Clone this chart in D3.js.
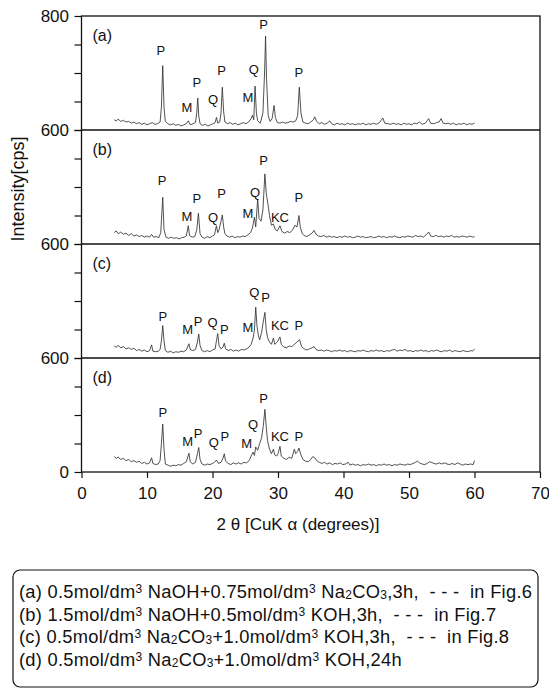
<!DOCTYPE html>
<html><head><meta charset="utf-8">
<script src="https://cdn.jsdelivr.net/npm/d3@7/dist/d3.min.js"></script>
<style>body{margin:0;background:#fff}svg{display:block}text{font-family:"Liberation Sans",Arial,Helvetica,sans-serif;fill:#111}</style>
</head><body><svg id="c" width="549" height="690"></svg>
<script>
// ---------- DATA ----------
const panelNames = ["(a)", "(b)", "(c)", "(d)"];
const xTicks = [0, 10, 20, 30, 40, 50, 60, 70];
const yTicks = [600, 650, 700, 750, 800];
const yBoundaryLabels = ["800", "600", "600", "600", "0"];
const xTitle = "2 θ [CuK α (degrees)]";
const yTitle = "Intensity[cps]";

// [2θ (deg), intensity (cps)]
const patternA = [[5.0,618],[5.3,616],[5.6,619],[6.0,615],[6.4,617],[6.8,614],[7.2,615],[7.6,612],[8.0,614],[8.4,611],[8.8,613],[9.2,610],[9.6,612],[10.0,609],[10.4,611],[10.8,613],[11.2,610],[11.6,611],[12.0,614],[12.2,640],[12.4,713],[12.6,640],[12.8,615],[13.2,611],[13.6,609],[14.0,611],[14.4,608],[14.8,610],[15.2,607],[15.6,609],[16.0,611],[16.3,616],[16.6,609],[17.0,611],[17.4,613],[17.6,630],[17.75,656],[17.9,625],[18.1,611],[18.5,608],[18.9,610],[19.3,607],[19.7,609],[20.1,611],[20.4,613],[20.6,622],[20.8,612],[21.1,614],[21.3,630],[21.5,675],[21.7,632],[21.9,614],[22.3,611],[22.7,613],[23.1,610],[23.5,612],[23.9,609],[24.3,611],[24.7,613],[25.1,611],[25.5,614],[25.9,620],[26.1,626],[26.3,618],[26.5,677],[26.7,630],[26.9,616],[27.3,612],[27.7,630],[27.95,700],[28.1,765],[28.25,690],[28.5,625],[28.8,615],[29.1,620],[29.4,643],[29.6,622],[29.9,613],[30.3,612],[30.7,614],[31.1,612],[31.5,613],[31.9,615],[32.3,614],[32.7,616],[33.0,625],[33.25,675],[33.5,630],[33.8,614],[34.2,612],[34.6,611],[35.0,614],[35.4,618],[35.6,623],[35.9,615],[36.3,611],[36.7,613],[37.1,610],[37.5,612],[37.9,616],[38.2,611],[38.6,609],[39.0,612],[39.4,610],[39.8,611],[40.2,609],[40.6,612],[41.0,610],[41.4,611],[41.8,609],[42.2,611],[42.6,610],[43.0,612],[43.4,609],[43.8,611],[44.2,610],[44.6,612],[45.0,610],[45.5,613],[46.0,621],[46.3,612],[46.8,611],[47.2,610],[47.6,612],[48.0,610],[48.4,611],[48.8,609],[49.2,612],[49.6,610],[50.0,611],[50.4,609],[50.8,612],[51.2,611],[51.6,614],[52.0,610],[52.5,612],[53.0,620],[53.3,612],[53.8,611],[54.2,613],[54.6,614],[54.9,620],[55.2,612],[55.6,611],[56.0,612],[56.4,610],[56.8,612],[57.2,609],[57.6,611],[58.0,610],[58.4,612],[58.8,609],[59.2,611],[59.6,610],[60.0,612]];

const patternB = [[5.0,620],[5.3,623],[5.6,618],[6.0,621],[6.4,617],[6.8,619],[7.2,615],[7.6,618],[8.0,614],[8.4,616],[8.8,613],[9.2,615],[9.6,612],[10.0,614],[10.4,612],[10.7,617],[11.0,612],[11.4,613],[11.8,611],[12.1,620],[12.4,682],[12.6,625],[12.9,612],[13.3,610],[13.7,612],[14.1,610],[14.5,611],[14.9,609],[15.3,611],[15.7,612],[16.0,614],[16.3,632],[16.5,615],[16.9,612],[17.3,613],[17.6,625],[17.85,654],[18.1,618],[18.4,612],[18.8,610],[19.2,613],[19.6,611],[20.0,614],[20.3,616],[20.6,632],[20.8,620],[21.0,625],[21.3,640],[21.5,651],[21.7,630],[21.9,618],[22.2,614],[22.6,612],[23.0,614],[23.4,611],[23.8,613],[24.2,612],[24.6,614],[25.0,613],[25.4,616],[25.8,620],[26.1,628],[26.4,647],[26.6,630],[26.9,679],[27.1,645],[27.4,640],[27.7,660],[28.0,723],[28.2,690],[28.5,667],[28.7,650],[29.0,633],[29.3,635],[29.6,625],[29.9,623],[30.3,632],[30.6,622],[31.0,619],[31.4,622],[31.8,620],[32.2,624],[32.6,633],[32.9,630],[33.2,650],[33.4,630],[33.7,618],[34.0,615],[34.4,613],[34.8,616],[35.2,619],[35.5,624],[35.8,617],[36.2,614],[36.6,613],[37.0,615],[37.4,612],[37.8,614],[38.2,612],[38.6,613],[39.0,611],[39.4,613],[39.8,612],[40.2,614],[40.6,612],[41.0,613],[41.4,611],[41.8,612],[42.2,614],[42.6,612],[43.0,613],[43.4,611],[43.8,612],[44.2,613],[44.6,611],[45.0,612],[45.4,614],[45.8,612],[46.2,613],[46.6,611],[47.0,613],[47.4,612],[47.8,614],[48.2,612],[48.6,611],[49.0,613],[49.4,612],[49.8,614],[50.2,613],[50.6,612],[51.0,615],[51.4,613],[51.8,614],[52.2,612],[52.6,616],[53.0,621],[53.3,614],[53.7,613],[54.1,615],[54.5,613],[54.9,614],[55.3,612],[55.7,614],[56.1,613],[56.5,615],[56.9,612],[57.3,613],[57.7,612],[58.1,614],[58.5,613],[58.9,612],[59.3,614],[59.7,612],[60.0,613]];

const patternC = [[5.0,621],[5.3,619],[5.6,622],[6.0,618],[6.4,620],[6.8,616],[7.2,618],[7.6,615],[8.0,617],[8.4,613],[8.8,615],[9.2,612],[9.6,614],[10.0,611],[10.4,613],[10.7,623],[10.9,612],[11.3,611],[11.7,612],[12.0,615],[12.2,630],[12.4,657],[12.6,630],[12.8,613],[13.2,610],[13.6,612],[14.0,609],[14.4,611],[14.8,610],[15.2,612],[15.6,611],[16.0,614],[16.4,625],[16.6,615],[17.0,613],[17.4,615],[17.7,628],[17.9,642],[18.1,622],[18.4,613],[18.8,611],[19.2,613],[19.6,611],[20.0,614],[20.4,616],[20.6,630],[20.8,643],[21.0,622],[21.3,616],[21.6,619],[21.8,626],[22.0,616],[22.4,613],[22.8,615],[23.2,612],[23.6,614],[24.0,612],[24.4,615],[24.8,614],[25.2,616],[25.6,619],[25.9,624],[26.2,635],[26.4,649],[26.6,689],[26.8,655],[27.0,640],[27.2,632],[27.5,645],[27.7,660],[28.0,680],[28.2,650],[28.4,636],[28.7,628],[29.0,624],[29.3,635],[29.5,624],[29.8,627],[30.0,630],[30.3,637],[30.5,624],[30.9,619],[31.3,618],[31.7,621],[32.1,620],[32.5,624],[32.9,628],[33.3,632],[33.6,620],[34.0,616],[34.4,614],[34.8,616],[35.2,618],[35.5,620],[35.8,615],[36.2,613],[36.6,614],[37.0,612],[37.4,614],[37.8,613],[38.2,611],[38.6,613],[39.0,612],[39.4,614],[39.8,612],[40.2,613],[40.6,611],[41.0,613],[41.4,612],[41.8,611],[42.2,613],[42.6,612],[43.0,614],[43.4,612],[43.8,611],[44.2,613],[44.6,612],[45.0,614],[45.4,612],[45.8,613],[46.2,611],[46.6,613],[47.0,612],[47.4,614],[47.8,615],[48.2,612],[48.6,614],[49.0,613],[49.4,615],[49.8,612],[50.2,613],[50.6,611],[51.0,613],[51.4,612],[51.8,614],[52.2,612],[52.6,613],[53.0,611],[53.4,613],[53.8,612],[54.2,614],[54.6,612],[55.0,611],[55.4,613],[55.8,612],[56.2,614],[56.6,611],[57.0,613],[57.4,612],[57.8,611],[58.2,613],[58.6,612],[59.0,611],[59.4,613],[59.7,612],[60.0,616]];

const patternD = [[5.0,627],[5.3,624],[5.6,626],[6.0,622],[6.4,624],[6.8,620],[7.2,622],[7.6,618],[8.0,620],[8.4,617],[8.8,619],[9.2,615],[9.6,617],[10.0,614],[10.4,616],[10.7,625],[10.9,615],[11.3,613],[11.7,614],[12.0,620],[12.2,650],[12.4,684],[12.6,640],[12.8,614],[13.2,612],[13.6,610],[14.0,612],[14.4,611],[14.8,613],[15.2,612],[15.6,615],[16.0,618],[16.4,633],[16.6,618],[17.0,614],[17.4,617],[17.7,632],[17.9,643],[18.1,622],[18.4,614],[18.8,612],[19.2,614],[19.6,613],[20.0,615],[20.3,617],[20.6,621],[20.9,615],[21.3,617],[21.6,624],[21.8,632],[22.0,619],[22.4,615],[22.8,613],[23.2,616],[23.6,614],[24.0,616],[24.4,614],[24.8,617],[25.2,616],[25.6,620],[25.9,628],[26.2,635],[26.4,629],[26.6,644],[26.9,638],[27.2,650],[27.5,660],[27.75,680],[28.0,710],[28.2,680],[28.4,655],[28.7,640],[29.0,632],[29.3,640],[29.5,630],[29.8,628],[30.0,632],[30.3,645],[30.5,628],[30.9,624],[31.3,622],[31.7,626],[32.1,624],[32.5,640],[32.7,632],[33.0,636],[33.2,642],[33.5,630],[33.8,622],[34.2,619],[34.6,618],[35.0,622],[35.3,627],[35.6,625],[35.9,620],[36.3,617],[36.7,615],[37.1,617],[37.5,614],[37.9,616],[38.3,613],[38.7,615],[39.1,614],[39.5,616],[39.9,613],[40.3,614],[40.7,617],[41.0,612],[41.4,614],[41.8,612],[42.2,613],[42.6,611],[43.0,613],[43.4,612],[43.8,614],[44.2,612],[44.6,613],[45.0,611],[45.4,613],[45.8,612],[46.2,614],[46.6,612],[47.0,613],[47.4,611],[47.8,613],[48.2,612],[48.6,614],[49.0,613],[49.4,612],[49.8,614],[50.2,613],[50.6,615],[51.0,617],[51.3,619],[51.6,616],[52.0,614],[52.4,613],[52.8,615],[53.1,618],[53.4,617],[53.8,615],[54.2,614],[54.6,616],[55.0,614],[55.4,616],[55.8,614],[56.2,613],[56.6,615],[57.0,613],[57.4,616],[57.8,614],[58.2,612],[58.6,614],[59.0,613],[59.4,614],[59.8,613],[60.0,620]];

// peak labels: [2θ, cps, text]
const labelsA = [[12.1,740,"P"],[16.1,640,"M"],[17.6,684,"P"],[20.1,653,"Q"],[21.4,704,"P"],[25.4,658,"M"],[26.3,707,"Q"],[27.8,786,"P"],[33.2,702,"P"]];
const labelsB = [[12.3,712,"P"],[16.1,649,"M"],[17.6,681,"P"],[20.1,647,"Q"],[21.4,689,"P"],[25.4,654,"M"],[26.5,691,"Q"],[27.8,747,"P"],[30.3,647,"KC"],[33.2,682,"P"]];
const labelsC = [[12.4,674,"P"],[16.2,651,"M"],[17.8,665,"P"],[20.0,663,"Q"],[21.8,651,"P"],[25.4,654,"M"],[26.4,716,"Q"],[28.1,707,"P"],[30.3,658,"KC"],[33.2,658,"P"]];
const labelsD = [[12.4,705,"P"],[16.2,654,"M"],[17.8,667,"P"],[20.2,652,"Q"],[21.9,662,"P"],[25.2,651,"M"],[26.2,684,"Q"],[27.8,730,"P"],[30.3,663,"KC"],[33.2,663,"P"]];

// legend lines: [text, style] n=normal, sup, sub
const legendA = [["(a) 0.5mol/dm","n"],["3","sup"],[" NaOH+0.75mol/dm","n"],["3","sup"],[" Na","n"],["2","sub"],["CO","n"],["3","sub"],[",3h,  - - -  in Fig.6","n"]];
const legendB = [["(b) 1.5mol/dm","n"],["3","sup"],[" NaOH+0.5mol/dm","n"],["3","sup"],[" KOH,3h,  - - -  in Fig.7","n"]];
const legendC = [["(c) 0.5mol/dm","n"],["3","sup"],[" Na","n"],["2","sub"],["CO","n"],["3","sub"],["+1.0mol/dm","n"],["3","sup"],[" KOH,3h,  - - -  in Fig.8","n"]];
const legendD = [["(d) 0.5mol/dm","n"],["3","sup"],[" Na","n"],["2","sub"],["CO","n"],["3","sub"],["+1.0mol/dm","n"],["3","sup"],[" KOH,24h","n"]];

// ---------- DRAW ----------
const svg = d3.select("#c");
const x = d3.scaleLinear().domain([0, 70]).range([81.5, 540]);
const plotTop = 16, panelH = 114, nP = 4;
const plotBottom = plotTop + nP * panelH;
const series = [patternA, patternB, patternC, patternD];
const peakLabels = [labelsA, labelsB, labelsC, labelsD];
const ink = "#111";

series.forEach((data, i) => {
  const y = d3.scaleLinear().domain([600, 800]).range([plotTop + (i + 1) * panelH, plotTop + i * panelH]);
  const g = svg.append("g");
  const ax = g.append("g").attr("transform", `translate(${x(0)},0)`)
    .call(d3.axisLeft(y).tickValues(yTicks).tickSize(7).tickFormat(""));
  ax.select(".domain").remove();
  ax.selectAll("line").attr("stroke", ink).attr("stroke-width", 1.2);

  g.append("path").datum(data)
    .attr("d", d3.line().x(d => x(d[0])).y(d => y(d[1])))
    .attr("fill", "none").attr("stroke", "#333").attr("stroke-width", 0.85)
    .attr("stroke-linejoin", "round");

  g.selectAll(".pl").data(peakLabels[i]).join("text")
    .attr("x", d => x(d[0])).attr("y", d => y(d[1]))
    .attr("dy", "0.36em").attr("text-anchor", "middle")
    .attr("font-size", 13).text(d => d[2]);

  g.append("text").attr("x", x(0) + 11).attr("y", y(800) + 19)
    .attr("dy", "0.36em").attr("font-size", 16).text(panelNames[i]);
});

// frame and panel separators
svg.append("rect").attr("x", x(0)).attr("y", plotTop).attr("width", x(70) - x(0)).attr("height", plotBottom - plotTop)
  .attr("fill", "none").attr("stroke", ink).attr("stroke-width", 1.3);
d3.range(1, nP).forEach(j => {
  svg.append("line").attr("x1", x(0)).attr("x2", x(70))
    .attr("y1", plotTop + j * panelH).attr("y2", plotTop + j * panelH)
    .attr("stroke", ink).attr("stroke-width", 1.3);
});
// boundary labels
yBoundaryLabels.forEach((t, j) => {
  svg.append("text").attr("x", 69).attr("y", plotTop + j * panelH).attr("dy", "0.36em")
    .attr("text-anchor", "end").attr("font-size", 17).text(t);
});

// x axis
const xa = svg.append("g").attr("transform", `translate(0,${plotBottom})`)
  .call(d3.axisBottom(x).tickValues(xTicks).tickSize(6).tickPadding(9));
xa.select(".domain").remove();
xa.selectAll("line").attr("stroke", ink).attr("stroke-width", 1.2);
xa.selectAll("text").attr("font-size", 17).attr("font-family", null).style("fill", ink);

// titles
svg.append("text").attr("x", 298).attr("y", 530).attr("text-anchor", "middle").attr("font-size", 17).text(xTitle);
svg.append("text").attr("transform", "translate(18,189) rotate(-90)").attr("dy", "0.36em")
  .attr("text-anchor", "middle").attr("font-size", 18).text(yTitle);

// legend box
svg.append("rect").attr("x", 13).attr("y", 570).attr("width", 525).attr("height", 117).attr("rx", 7)
  .attr("fill", "none").attr("stroke", ink).attr("stroke-width", 1.2);
[legendA, legendB, legendC, legendD].forEach((segs, r) => {
  const t = svg.append("text").attr("x", 19).attr("y", 598 + r * 22.5).attr("font-size", 18.3)
    .attr("letter-spacing", 0.28).style("white-space", "pre");
  segs.forEach(([s, k]) => {
    const ts = t.append("tspan").text(s);
    if (k === "sup") ts.attr("font-size", 12).attr("baseline-shift", "5");
    else if (k === "sub") ts.attr("font-size", 12).attr("baseline-shift", "-1");
  });
});
</script></body></html>
